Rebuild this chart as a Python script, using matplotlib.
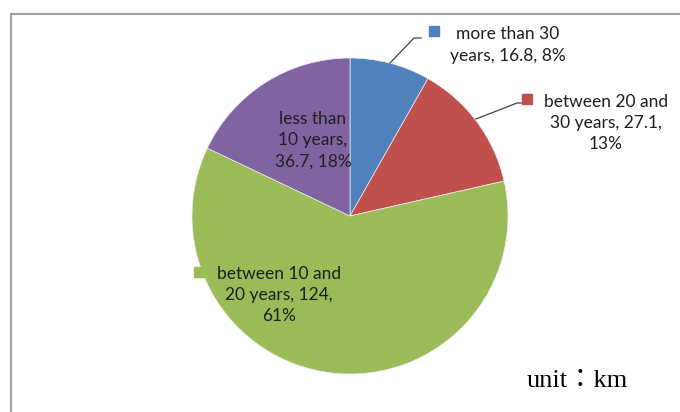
import matplotlib.pyplot as plt
from matplotlib.lines import Line2D

plt.rcParams['font.family'] = ['Lato', 'DejaVu Sans']

labels = ['more than 30\nyears, 16.8, 8%',
          'between 20 and\n30 years, 27.1,\n13%',
          'between 10 and\n20 years, 124,\n61%',
          'less than\n10 years,\n36.7, 18%']
values = [16.8, 27.1, 124, 36.7]
colors = ['#4f81bd', '#c0504d', '#9bbb59', '#8064a2']

W, H = 680, 412
fig = plt.figure(figsize=(W / 100, H / 100), dpi=100)

# frame of the chart area (left and top edges)
fig.add_artist(Line2D([11 / W, 11 / W], [0, 1 - 14 / H], color='#a0a0a0', lw=1.5))
fig.add_artist(Line2D([11 / W, 1], [1 - 14 / H, 1 - 14 / H], color='#a0a0a0', lw=1.5))

cx, cy, r = 350, 216, 158
ax = fig.add_axes([(cx - r) / W, (H - cy - r) / H, 2 * r / W, 2 * r / H])
ax.pie(values, colors=colors, startangle=90, counterclock=False, radius=1,
       wedgeprops=dict(linewidth=0.5, edgecolor='#f0f0f0'))
ax.set_xlim(-1, 1)
ax.set_ylim(-1, 1)
ax.set_aspect('equal')
ax.axis('off')


def px(x, y):
    # pixel position -> pie data coordinates
    return (x - cx) / r, (cy - y) / r


tc = '#1e1e1e'
fs = 12.5

# leader lines
for pts in ([(390, 63), (414, 38), (421, 38)], [(476, 119), (517, 103), (523, 103)]):
    xs, ys = zip(*[px(*p) for p in pts])
    ax.plot(xs, ys, color='#404040', lw=0.9, clip_on=False)

# legend key squares
for (mx, my), c in zip([(434, 31), (527, 99), (199, 272)], colors[:3]):
    ax.plot(*px(mx, my), marker='s', ms=6.5, color=c, mec=c, clip_on=False)

ax.text(*px(508, 45), labels[0], ha='center', va='center', fontsize=fs,
        color=tc, linespacing=1.4)
ax.text(*px(606, 123), labels[1], ha='center', va='center', fontsize=fs,
        color=tc, linespacing=1.4)
ax.text(*px(279, 295), labels[2], ha='center', va='center', fontsize=fs,
        color=tc, linespacing=1.4)
ax.text(*px(313, 140), labels[3], ha='center', va='center', fontsize=fs,
        color=tc, linespacing=1.4)

fig.text(577 / W, 1 - 381 / H, 'unit：km', ha='center', va='center', fontsize=19,
         family=['Liberation Serif', 'Noto Sans CJK TC'], color='black')

fig.savefig('out.png', dpi=100)
